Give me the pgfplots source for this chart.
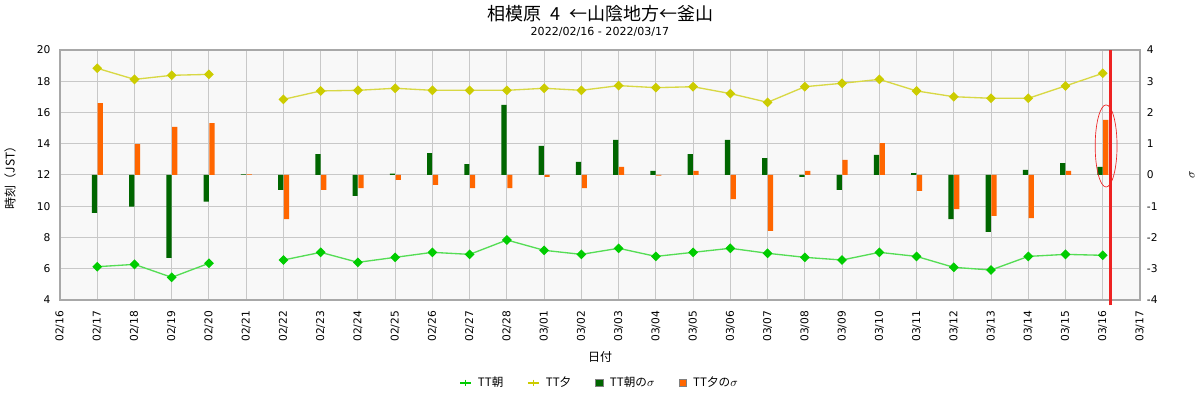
\documentclass[border=0pt]{standalone}
\usepackage{pgfplots}
\pgfplotsset{compat=1.18}
\usepackage{fontspec}
\setmainfont{DejaVu Sans}
\newfontfamily\jp{Noto Sans CJK JP}
\definecolor{bg}{HTML}{F8F8F8}
\definecolor{gridc}{HTML}{C8C8C8}
\definecolor{framec}{HTML}{A8A8A8}
\definecolor{gmark}{HTML}{00CC00}
\definecolor{gline}{HTML}{55DD55}
\definecolor{ymark}{HTML}{CCCC00}
\definecolor{yline}{HTML}{D8D844}
\definecolor{dgreen}{HTML}{006600}
\definecolor{orng}{HTML}{FF6600}
\definecolor{redl}{HTML}{EE2222}
\pgfplotsset{
  linelegend/.style={legend image code/.code={\draw[mark repeat=2, mark phase=2, ##1] plot coordinates {(0pt,0pt) (4pt,0pt) (8pt,0pt)};}},
  sqlegend/.style={legend image code/.code={\draw[fill=#1, draw=gray, line width=0.6pt] (0pt,-2.7pt) rectangle (5.4pt,2.7pt);}},
}
\begin{document}
\begin{tikzpicture}
\path[use as bounding box] (0,0) rectangle (900pt,300pt);
\node[font=\jp\fontsize{13.5}{15}\selectfont] at (450pt,290pt) {相模原\hspace{0.5em}4\hspace{0.5em}←山陰地方←釜山};
\node[font=\fontsize{8.3}{10}\selectfont] at (450pt,276pt) {2022/02/16 - 2022/03/17};
\node[font=\jp\fontsize{9}{10}\selectfont] at (450pt,32pt) {日付};
\node[font=\jp\fontsize{9}{10}\selectfont, rotate=90] at (7.5pt,168.75pt) {時刻（JST）};
\node[font=\fontsize{9}{10}\selectfont, rotate=90] at (894pt,168.75pt) {$\sigma$};
\begin{axis}[
  at={(45pt,75pt)}, anchor=south west,
  width=810pt, height=187.5pt, scale only axis,
  xmin=0, xmax=29, ymin=4, ymax=20,
  xtick={0,...,29},
  xticklabels={02/16,02/17,02/18,02/19,02/20,02/21,02/22,02/23,02/24,02/25,02/26,02/27,02/28,03/01,03/02,03/03,03/04,03/05,03/06,03/07,03/08,03/09,03/10,03/11,03/12,03/13,03/14,03/15,03/16,03/17},
  ytick={4,6,...,20},
  grid=major, major grid style={gridc, line width=0.75pt},
  major tick length=0pt,
  axis line style={framec, line width=0.9pt},
  axis background/.style={fill=bg},
  tick label style={font=\fontsize{8}{9}\selectfont},
  /pgf/number format/assume math mode=true,
  xticklabel style={rotate=90, anchor=east, inner sep=0pt},
  xticklabel shift=8pt,
  yticklabel style={inner sep=0pt},
  yticklabel shift=7pt,
  unbounded coords=jump,
]
\addplot[gline, line width=1pt, mark=square*, mark size=2.1pt, mark options={gmark, fill=gmark, rotate=45}] coordinates {
(1,6.13) (2,6.28) (3,5.45) (4,6.35) (5,nan) (6,6.56) (7,7.05) (8,6.41) (9,6.73) (10,7.05) (11,6.92) (12,7.84) (13,7.18) (14,6.92) (15,7.31) (16,6.79) (17,7.05) (18,7.31) (19,6.99) (20,6.73) (21,6.56) (22,7.05) (23,6.79) (24,6.09) (25,5.92) (26,6.79) (27,6.92) (28,6.86)};
\addplot[yline, line width=1pt, mark=square*, mark size=2.1pt, mark options={ymark, fill=ymark, rotate=45}] coordinates {
(1,18.83) (2,18.12) (3,18.38) (4,18.44) (5,nan) (6,16.84) (7,17.38) (8,17.42) (9,17.55) (10,17.42) (11,17.42) (12,17.42) (13,17.55) (14,17.42) (15,17.72) (16,17.59) (17,17.65) (18,17.21) (19,16.65) (20,17.65) (21,17.87) (22,18.12) (23,17.38) (24,17.01) (25,16.91) (26,16.91) (27,17.70) (28,18.51)};
\end{axis}
\begin{axis}[
  at={(45pt,75pt)}, anchor=south west,
  width=810pt, height=187.5pt, scale only axis,
  xmin=0, xmax=29, ymin=-4, ymax=4,
  axis x line=none,
  axis y line*=right,
  y axis line style={draw=none},
  ytick={-4,...,4},
  major tick length=0pt,
  tick label style={font=\fontsize{8}{9}\selectfont},
  /pgf/number format/assume math mode=true,
  yticklabel style={inner sep=0pt},
  yticklabel shift=5pt,
  clip=false,
  legend columns=4,
  legend style={at={(0.5,-0.332)}, anchor=center, draw=none, fill=none,
    font=\jp\fontsize{8.7}{10}\selectfont,
    /tikz/every odd column/.append style={column sep=3pt},
    /tikz/every even column/.append style={column sep=16pt}},
]
\addlegendimage{gmark, line width=0.8pt, mark=+, mark size=2.5pt, linelegend}
\addlegendentry{TT朝}
\addlegendimage{ymark, line width=0.8pt, mark=+, mark size=2.5pt, linelegend}
\addlegendentry{TT夕}
\addplot[ybar, bar width=0.14, bar shift=-0.075, fill=dgreen, draw=none, sqlegend=dgreen] coordinates {
(1,-1.21) (2,-1.01) (3,-2.65) (4,-0.85) (5,0.02) (6,-0.48) (7,0.67) (8,-0.67) (9,0.04) (10,0.70) (11,0.35) (12,2.24) (13,0.93) (14,0.42) (15,1.12) (16,0.13) (17,0.67) (18,1.12) (19,0.54) (20,-0.06) (21,-0.48) (22,0.64) (23,0.06) (24,-1.41) (25,-1.82) (26,0.16) (27,0.38) (28,0.26)};
\addlegendentry{TT朝の$\sigma$}
\addplot[ybar, bar width=0.14, bar shift=0.08, fill=orng, draw=none, sqlegend=orng] coordinates {
(1,2.30) (2,0.99) (3,1.54) (4,1.66) (5,0.02) (6,-1.41) (7,-0.48) (8,-0.42) (9,-0.16) (10,-0.32) (11,-0.42) (12,-0.42) (13,-0.06) (14,-0.42) (15,0.26) (16,-0.02) (17,0.13) (18,-0.77) (19,-1.79) (20,0.13) (21,0.48) (22,1.02) (23,-0.51) (24,-1.09) (25,-1.31) (26,-1.38) (27,0.13) (28,1.76)};
\addlegendentry{TT夕の$\sigma$}
\addplot[redl, line width=2.8pt, forget plot] coordinates {(28.21,-4.17) (28.21,4)};
\draw[redl, line width=0.5pt] (axis cs:28.09,0.93) ellipse [x radius=8.2pt, y radius=30.8pt];
\end{axis}
\end{tikzpicture}
\end{document}
